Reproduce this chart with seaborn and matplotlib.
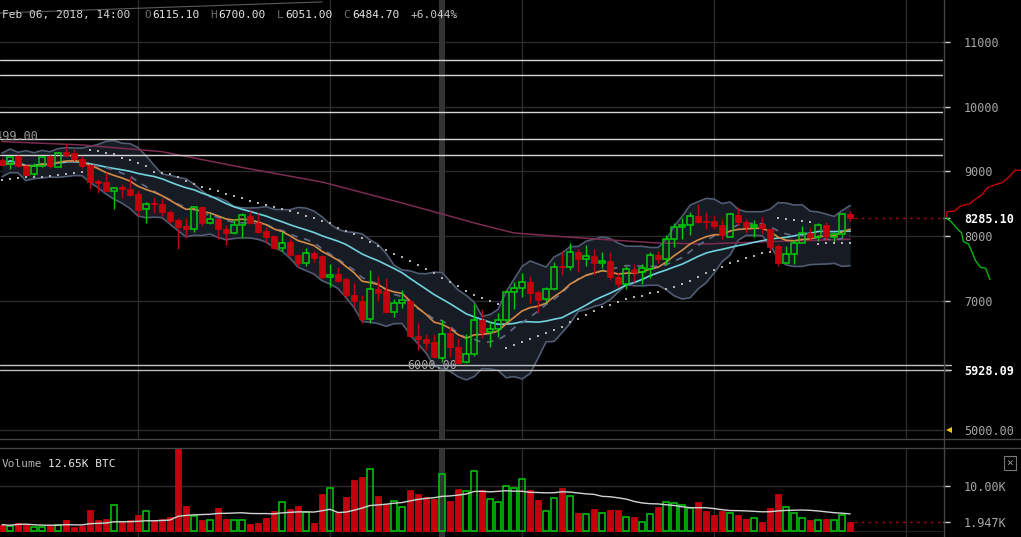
import numpy as np
import pandas as pd
import matplotlib
matplotlib.use("Agg")
import matplotlib.pyplot as plt
import matplotlib.transforms as mtrans
from matplotlib.lines import Line2D
import seaborn as sns

# hourly BTC candles, Feb 04 07:00 -> Feb 08 17:00 (2018)
opens = [9176, 9110, 9237, 9083, 8955, 9083, 9237, 9073, 9300, 9279,
         9196, 9098, 8851, 8836, 8696, 8764, 8722, 8650, 8413, 8500,
         8490, 8377, 8248, 8155, 8114, 8444, 8197, 8259, 8104, 8042,
         8166, 8310, 8207, 8078, 8001, 7810, 7908, 7702, 7588, 7743,
         7691, 7372, 7413, 7331, 7089, 7000, 6713, 7177, 7150, 6830,
         6960, 7000, 6455, 6403, 6362, 6115, 6496, 6280, 6047, 6171,
         6702, 6522, 6558, 6702, 7140, 7192, 7285, 7130, 7021, 7177,
         7537, 7517, 7753, 7640, 7692, 7588, 7620, 7362, 7259, 7486,
         7449, 7486, 7707, 7640, 7949, 8145, 8171, 8310, 8233, 8233,
         8171, 7990, 8325, 8212, 8145, 8186, 8104, 7846, 7588, 7722,
         7898, 8042, 7990, 8171, 7990, 8032, 8341]
highs = [9200, 9240, 9250, 9103, 9130, 9240, 9250, 9300, 9423, 9346,
         9237, 9110, 8877, 8995, 8754, 8800, 8908, 8712, 8527, 8599,
         8583, 8400, 8275, 8275, 8465, 8465, 8361, 8280, 8171, 8259,
         8352, 8387, 8361, 8135, 8020, 8067, 7970, 7720, 7810, 7784,
         7710, 7568, 7517, 7372, 7270, 7089, 7475, 7382, 7350, 7021,
         7166, 7020, 6660, 6485, 6481, 6700, 6589, 6420, 6486, 6950,
         6867, 6676, 6815, 7166, 7295, 7424, 7382, 7160, 7213, 7604,
         7769, 7888, 7800, 7862, 7795, 7758, 7758, 7424, 7537, 7568,
         7568, 7758, 7774, 8016, 8197, 8274, 8377, 8496, 8377, 8325,
         8259, 8361, 8444, 8259, 8248, 8290, 8110, 7877, 7846, 7939,
         8155, 8120, 8197, 8222, 8067, 8351, 8392]
lows = [9080, 9037, 9070, 8918, 8933, 9070, 9047, 9060, 9227, 9160,
        9047, 8727, 8660, 8690, 8418, 8593, 8620, 8315, 8207, 8361,
        8310, 8202, 7800, 7990, 8067, 8160, 8180, 7954, 7862, 8030,
        7980, 8190, 8042, 7898, 7799, 7774, 7690, 7526, 7537, 7604,
        7340, 7217, 7290, 7060, 6908, 6650, 6650, 7000, 6810, 6744,
        6892, 6440, 6238, 6238, 6110, 6051, 6135, 6033, 6030, 6145,
        6419, 6280, 6444, 6676, 6867, 7053, 6970, 6805, 6985, 7166,
        7398, 7480, 7449, 7537, 7398, 7501, 7320, 7207, 7177, 7294,
        7259, 7346, 7588, 7552, 7836, 7949, 8016, 8197, 8104, 8104,
        7949, 7980, 8171, 8042, 7990, 8032, 7758, 7537, 7580, 7568,
        7890, 7929, 7929, 7939, 7913, 7990, 8238]
closes = [9098, 9227, 9083, 8944, 9083, 9227, 9083, 9289, 9253, 9186,
          9088, 8840, 8815, 8701, 8738, 8722, 8635, 8403, 8496, 8490,
          8377, 8237, 8145, 8114, 8444, 8197, 8259, 8104, 8052, 8166,
          8321, 8207, 8067, 7990, 7810, 7888, 7707, 7588, 7733, 7666,
          7362, 7398, 7310, 7089, 7000, 6713, 7177, 7125, 6830, 6960,
          7011, 6455, 6403, 6352, 6125, 6484.7, 6280, 6042, 6171, 6702,
          6522, 6558, 6702, 7140, 7192, 7285, 7125, 7011, 7177, 7517,
          7517, 7753, 7640, 7692, 7588, 7620, 7362, 7259, 7486, 7449,
          7501, 7707, 7640, 7949, 8145, 8160, 8310, 8222, 8212, 8160,
          8016, 8341, 8212, 8145, 8160, 8124, 7836, 7588, 7722, 7892,
          8042, 7990, 8171, 8001, 8032, 8341, 8285.1]
volumes = [1.34, 1.1, 1.8, 1.6, 0.8, 0.8, 1.1, 1.3, 2.3, 0.9,
           1.1, 4.7, 2.5, 2.7, 5.7, 2.1, 2.5, 3.5, 4.3, 2.3,
           2.6, 3.1, 18.4, 5.6, 3.3, 2.3, 2.3, 5.1, 2.7, 2.3,
           2.3, 1.6, 1.8, 2.9, 4.3, 6.5, 4.9, 5.6, 4.1, 1.8,
           8.3, 9.6, 4.1, 7.6, 11.4, 11.9, 13.8, 7.8, 6.0, 6.7,
           5.3, 9.2, 8.1, 7.6, 7.2, 12.65, 6.7, 9.4, 8.8, 13.4,
           9.0, 7.1, 6.5, 10.1, 9.5, 11.6, 9.0, 6.9, 4.5, 7.3,
           9.6, 7.8, 4.0, 3.7, 4.9, 4.0, 4.7, 4.7, 3.1, 3.1,
           2.0, 3.8, 5.4, 6.5, 6.3, 5.7, 5.1, 6.5, 4.5, 3.6,
           4.5, 4.0, 3.6, 2.6, 2.8, 2.0, 5.1, 8.3, 5.3, 4.0,
           2.8, 2.5, 2.5, 2.6, 2.5, 3.4, 1.947]
# parabolic-SAR style dots
sar = [8866, 8880, 8895, 8905, 8912, 8920, 8930, 8943, 8954, 8970,
       8985, 9330, 9319, 9288, 9263, 9211, 9175, 9129, 9087, 8995,
       8979, 8959, 8905, 8850, 8805, 8763, 8727, 8696, 8650, 8624,
       8583, 8546, 8515, 8480, 8454, 8418, 8387, 8361, 8315, 8283,
       8237, 8197, 8129, 8085, 8030, 7975, 7912, 7846, 7784, 7722,
       7671, 7619, 7552, 7490, 7433, 7355, 7294, 7227, 7155, 7088,
       7046, 6995, 6949, 6273, 6315, 6356, 6410, 6456, 6505, 6550,
       6597, 6666, 6721, 6778, 6845, 6897, 6933, 6984, 7030, 7061,
       7077, 7114, 7139, 7176, 7216, 7263, 7309, 7371, 7433, 7474,
       7525, 7578, 7618, 7664, 7695, 7732, 7757, 8274, 8263, 8247,
       8232, 8212, 7880, 7885, 7890, 7892, 7895]
# long moving average, read at a few candles
ma_long_idx = [0, 10, 20, 30, 40, 50, 60, 64, 70, 76, 82, 88, 96, 106]
ma_long = [9460, 9408, 9304, 9060, 8835, 8510, 8170, 8047, 7990, 7939, 7892, 7877, 7913, 7950]
# drawn horizontal levels and trend line
levels = [10720, 10490, 9920, 9499, 9245]
low_levels = [6000, 5928.09]
trend_idx = [-0.25, 40]
trend_px = [11448, 11620]
# order book depth (right of price scale)
ask_price = [8285, 8374, 8387, 8459, 8501, 8549, 8639, 8745, 8798, 8830, 8920, 9016, 9016]
ask_depth = [3.3, 4, 11.8, 17, 27, 30.7, 39, 44.4, 53, 59.8, 66.7, 71.8, 81]
bid_price = [8279, 8217, 8124, 8046, 7913, 7876, 7754, 7623, 7516, 7501, 7331]
bid_depth = [3.3, 8.4, 13.5, 18.7, 20.4, 25.5, 29, 32.4, 37.5, 42.7, 46.8]
day_lines = [17, 41, 65, 89, 113]
hover = 55

RED = '#c4000e'
GREEN = '#00cc08'
GRID = '#2c2c2c'
SEP = '#454545'

sns.set_theme(style='dark', rc={'axes.facecolor': 'black', 'figure.facecolor': 'black',
                                'axes.grid': False, 'savefig.facecolor': 'black'})
plt.rcParams['font.family'] = ['DejaVu Sans Mono', 'DejaVu Sans']

df = pd.DataFrame({'o': opens, 'h': highs, 'l': lows, 'c': closes, 'v': volumes, 'sar': sar})
df['i'] = np.arange(len(df))
up = df.c >= df.o
close = df.c
basis = close.rolling(10, min_periods=1).mean()
dev = close.rolling(10, min_periods=2).std().bfill()
upper = basis + 2 * dev
lower = basis - 2 * dev
ema = close.ewm(span=10, adjust=False).mean()
sma20 = close.rolling(20, min_periods=1).mean()
vol_ma = df.v.rolling(20, min_periods=1).mean()

W, H = 1021, 537
fig = plt.figure(figsize=(W / 100, H / 100), dpi=100)
xr = 943 / W
ax = fig.add_axes([0, 1 - 438.6 / H, xr, 438.6 / H])
axv = fig.add_axes([0, 0, xr, (H - 448.3) / H])
axd = fig.add_axes([xr, 1 - 438.6 / H, 1 - xr, 438.6 / H])

xlim = (-0.25, 117.6)
for a in (ax, axv, axd):
    for s in a.spines.values():
        s.set_visible(False)
    a.set_facecolor('none')

# ---- price panel
ax.set_xlim(*xlim)
ax.set_ylim(4867, 11649.5)
for p in range(5000, 12000, 1000):
    ax.axhline(p, color=GRID, lw=1, zorder=0)
for d in day_lines:
    ax.axvline(d, color=GRID, lw=1, zorder=0)
    axv.axvline(d, color=GRID, lw=1, zorder=0)
ax.axvspan(hover - 0.35, hover + 0.35, color='#333333', lw=0, zorder=0.5)
axv.axvspan(hover - 0.35, hover + 0.35, color='#333333', lw=0, zorder=0.5)

ax.fill_between(df.i, lower, upper, color='#171b23', lw=0, zorder=1)
sns.lineplot(x=df.i, y=upper, ax=ax, color='#4f5c72', lw=1.2, zorder=2, legend=False)
sns.lineplot(x=df.i, y=lower, ax=ax, color='#4f5c72', lw=1.2, zorder=2, legend=False)
sns.lineplot(x=ma_long_idx, y=ma_long, ax=ax, color='#7b2c50', lw=1.1, zorder=2, legend=False)
sns.lineplot(x=df.i, y=sma20, ax=ax, color='#6fd2dc', lw=1.2, zorder=3, legend=False)
sns.lineplot(x=df.i, y=basis, ax=ax, color='#5f6c88', lw=1.2, zorder=3, legend=False,
             linestyle=(0, (4, 4)))
sns.lineplot(x=df.i, y=ema, ax=ax, color='#d48a46', lw=1.2, zorder=3, legend=False)
sns.lineplot(x=trend_idx, y=trend_px, ax=ax, color='#5a5a5a', lw=0.8, zorder=2, legend=False)

for lv in levels:
    ax.axhline(lv, color='#d6d6d6', lw=1, zorder=4)
for lv in low_levels:
    ax.axhline(lv, xmax=1.008, color='#bdbdbd', lw=1, zorder=4, clip_on=False)
ax.text(4.5, 9535, '9499.00', ha='right', va='center', color='#9a9a9a', fontsize=8.5, zorder=4, clip_on=True)
ax.text(53.75, 6000, '6000.00', ha='center', va='center', color='#a8a8a8', fontsize=8.5, zorder=4)

# candles
body_lo = np.minimum(df.o, df.c)
body_hi = np.maximum(df.o, df.c)
ccol = np.where(up, GREEN, RED)
ax.vlines(df.i, df.l, body_lo, colors=ccol, lw=1, zorder=5)
ax.vlines(df.i, body_hi, df.h, colors=ccol, lw=1, zorder=5)
hgt = (body_hi - body_lo).clip(lower=18)
ax.bar(df.i[up], hgt[up], bottom=body_lo[up], width=0.7, facecolor='none', edgecolor=GREEN, lw=1.1, zorder=5)
ax.bar(df.i[~up], hgt[~up], bottom=body_lo[~up], width=0.7, facecolor=RED, edgecolor=RED, lw=0.6, zorder=5)

sns.scatterplot(x=df.i, y=df.sar, ax=ax, marker='s', s=4, color='#b4b4b4', linewidth=0, zorder=6, legend=False)

last = closes[-1]
ax.plot([df.i.iloc[-1] + 0.5, xlim[1]], [last, last], color='#a0000c', lw=1, ls=(0, (2, 3)), zorder=4)

# right price scale
ticks = [5000, 5928.09, 7000, 8000, 8285.1, 9000, 10000, 11000]
labels = ['5000.00', '5928.09', '7000', '8000', '8285.10', '9000', '10000', '11000']
ax.set_yticks(ticks)
ax.set_yticklabels(labels)
ax.set_xticks([])
ax.set_xlabel('')
ax.set_ylabel('')
ax.yaxis.tick_right()
ax.tick_params(axis='y', right=True, left=False, labelright=True, labelleft=False, length=5,
               width=1, color='#cfcfcf', labelcolor='#a6a6a6', labelsize=8.5, pad=10)
for t, lab in zip(ax.yaxis.get_major_ticks(), labels):
    if lab in ('8285.10', '5928.09'):
        t.label2.set_color('white')
        t.label2.set_fontweight('bold')
    if lab == '5000.00':
        t.tick2line.set_visible(False)
ax.plot([1.006], [5000], marker='<', color='#f0c419', ms=5, mew=0,
        transform=mtrans.blended_transform_factory(ax.transAxes, ax.transData), clip_on=False, zorder=7)

# depth curves
axd.set_xlim(0, 78)
axd.set_ylim(ax.get_ylim())
axd.set_xticks([])
axd.set_yticks([])
sns.lineplot(x=ask_depth, y=ask_price, ax=axd, color='#c8000a', lw=1, sort=False, legend=False)
sns.lineplot(x=bid_depth, y=bid_price, ax=axd, color='#00b80a', lw=1, sort=False, legend=False)
axd.set_xlabel('')
axd.set_ylabel('')

# ---- volume panel
axv.set_xlim(*xlim)
axv.set_ylim(-1.41, 18.43)
axv.axhline(10, color=GRID, lw=1, zorder=0)
axv.axhline(0, color='#1e1e1e', lw=1, zorder=0)
axv.bar(df.i[up], df.v[up], width=0.7, facecolor='none', edgecolor=GREEN, lw=1.1, zorder=3)
axv.bar(df.i[~up], df.v[~up], width=0.7, facecolor=RED, edgecolor=RED, lw=0.6, zorder=3)
sns.lineplot(x=df.i, y=vol_ma, ax=axv, color='#d2d2d2', lw=1, zorder=4, legend=False)
lastv = volumes[-1]
axv.plot([df.i.iloc[-1] + 0.5, xlim[1]], [lastv, lastv], color='#a0000c', lw=1, ls=(0, (2, 3)), zorder=4)
axv.set_xticks([])
axv.set_yticks([1.947, 10])
axv.set_yticklabels(['1.947K', '10.00K'])
axv.yaxis.tick_right()
axv.tick_params(axis='y', right=True, left=False, labelright=True, labelleft=False, length=5,
                width=1, color='#cfcfcf', labelcolor='#a6a6a6', labelsize=8.5, pad=10)
axv.yaxis.get_major_ticks()[0].tick2line.set_color('#d0000c')
axv.set_xlabel('')
axv.set_ylabel('')

# ---- frame lines
for yy in (438.6, 448.3):
    fig.add_artist(Line2D([0, 1], [1 - yy / H] * 2, color=SEP, lw=1))
fig.add_artist(Line2D([943.5 / W] * 2, [0, 1], color=SEP, lw=1))

# ---- header texts
def ftxt(x, y, s, c, **kw):
    fig.text(x / W, 1 - y / H, s, color=c, fontsize=8, va='center', ha='left', **kw)

ftxt(2, 15, 'Feb 06, 2018, 14:00', '#d6d6d6')
for lx, vx, l, v in [(144, 152, 'O', '6115.10'), (210, 218, 'H', '6700.00'),
                     (277, 285, 'L', '6051.00'), (343, 352, 'C', '6484.70')]:
    ftxt(lx, 15, l, '#6e6e6e')
    ftxt(vx, 15, v, '#e6e6e6')
ftxt(411, 15, '+6.044%', '#c8c8c8')
ftxt(2, 464, 'Volume', '#b4b4b4')
ftxt(48, 464, '12.65K BTC', '#e6e6e6')
fig.text(1010 / W, 1 - 463 / H, '×', color='#9a9a9a', fontsize=8, ha='center', va='center',
         bbox=dict(boxstyle='square,pad=0.2', fc='black', ec='#777777', lw=0.8))

fig.savefig('out.png', dpi=100, facecolor='black')
